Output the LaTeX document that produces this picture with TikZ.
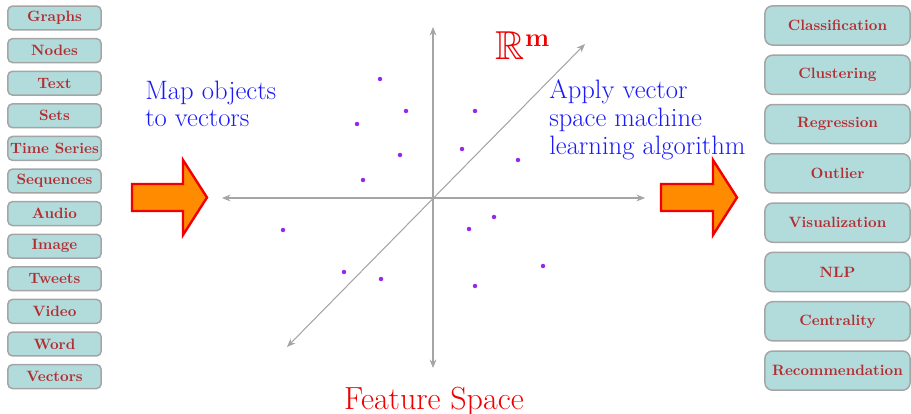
\documentclass[tikz,border=0pt]{standalone}
\usepackage{amsmath,amssymb,bm}
\usepackage{tikz}
\usepackage{xcolor}
\usetikzlibrary{arrows.meta,calc,positioning}
\definecolor{boxfill}{RGB}{178,220,220}
\definecolor{boxtext}{RGB}{178,45,50}
\definecolor{boxline}{RGB}{165,165,165}
\definecolor{axisgray}{RGB}{165,165,165}
\definecolor{dotpurple}{RGB}{150,40,235}
\definecolor{mapblue}{RGB}{25,25,250}
\definecolor{arroworange}{RGB}{255,140,0}
\definecolor{pptred}{RGB}{240,0,0}

\begin{document}
\begin{tikzpicture}[x=0.0235cm,y=-0.0235cm,>=Stealth,
  srcbox/.style={draw=boxline,fill=boxfill,line width=1pt,rounded corners=3pt,
    minimum width=2.19cm,minimum height=0.56cm,inner xsep=1pt,
    text=boxtext,font=\bfseries},
  taskbox/.style={draw=boxline,fill=boxfill,line width=1pt,rounded corners=5pt,
    minimum width=3.41cm,minimum height=0.92cm,inner xsep=1pt,
    text=boxtext,font=\bfseries},
  axis/.style={axisgray,line width=0.7pt,<->,>={Stealth[length=2mm,width=1.6mm]}},
  bigarrow/.style={draw=pptred,fill=arroworange,line width=1.6pt,line join=miter},
  maptext/.style={mapblue,align=left,inner sep=0pt,anchor=north west,
    font=\fontsize{17.8}{18}\selectfont}]
  \useasboundingbox (0,0) rectangle (911,414);
  % input objects
  \foreach \lbl [count=\i] in {Graphs,Nodes,Text,Sets,Time Series,Sequences,
      Audio,Image,Tweets,Video,Word,Vectors}
    \node[srcbox] (src\i) at (54.5,{18+(\i-1)*32.6}) {\lbl};
  % tasks
  \foreach \lbl [count=\i] in {Classification,Clustering,Regression,Outlier,
      Visualization,NLP,Centrality,Recommendation}
    \node[taskbox] (task\i) at (837.5,{25.5+(\i-1)*49.3}) {\lbl};
  % feature space axes
  \coordinate (O) at (433,198);
  \coordinate (xl) at (222,198);
  \coordinate (xr) at (645,198);
  \coordinate (yt) at (433,27);
  \coordinate (yb) at (433,368);
  \coordinate (zb) at (287,347);
  \coordinate (zt) at (585,44);
  \draw[axis] (xl)--(xr);
  \draw[axis] (yb)--(yt);
  \draw[axis] (zb)--(zt);
  \foreach \p in {(380,79),(406,111),(357,124),(475,111),(400,155),(462,149),
      (518,160),(363,180),(283,230),(494,217),(469,229),(543,266),(344,272),
      (381,279),(475,286)}
    \fill[dotpurple] \p circle[radius=1.5pt];
  % arrows
  \draw[bigarrow] (132,184)--(183,184)--(183,160)--(207,197.5)--(183,235)
    --(183,211)--(132,211)--cycle;
  \draw[bigarrow] (661,184)--(713,184)--(713,160)--(737,197.5)--(713,235)
    --(713,211)--(661,211)--cycle;
  % labels
  \node[maptext] (maplbl) at (145,81) {Map objects\\to vectors};
  \node[maptext,font=\fontsize{17.8}{19}\selectfont] (applbl) at (549,79)
    {Apply vector\\space machine\\learning algorithm};
  \node[pptred,font=\fontsize{27}{32}\selectfont] (rm) at (523,46)
    {$\mathbb{R}^{\mathbf{m}}$};
  \node[pptred,anchor=base,font=\fontsize{21.4}{25}\selectfont] (fslbl) at (434,409)
    {Feature Space};
\end{tikzpicture}
\end{document}
